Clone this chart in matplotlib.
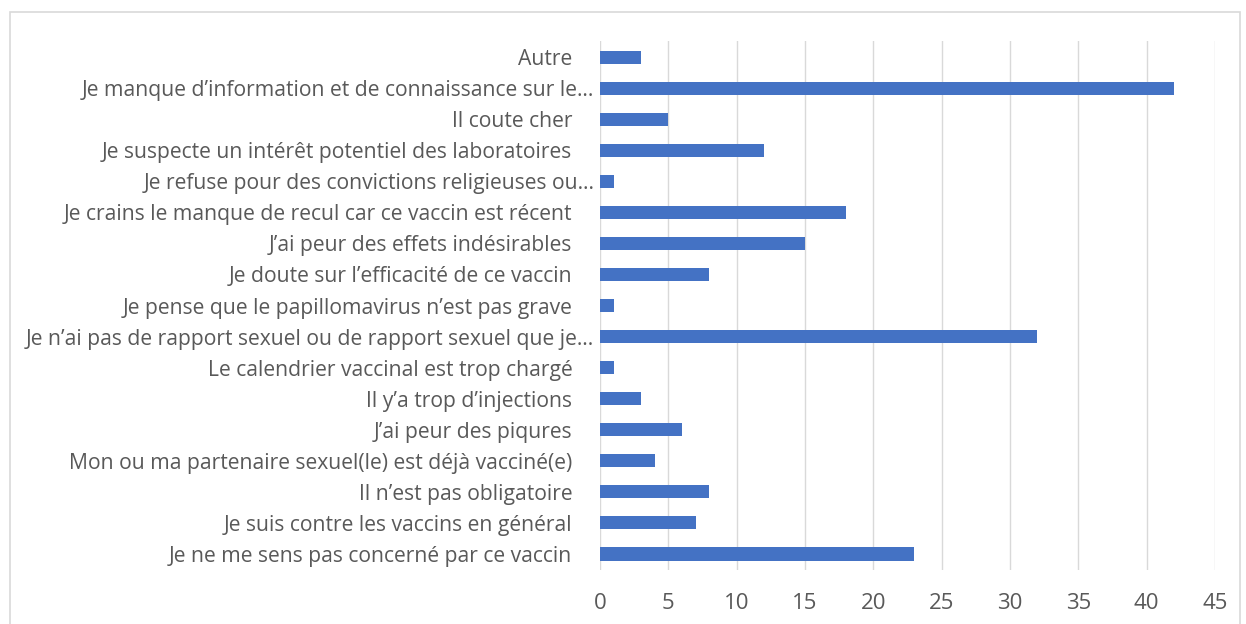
import matplotlib.pyplot as plt
from matplotlib.patches import Rectangle

# Categories listed bottom to top, as drawn
categories = [
    "Je ne me sens pas concerné par ce vaccin",
    "Je suis contre les vaccins en général",
    "Il n’est pas obligatoire",
    "Mon ou ma partenaire sexuel(le) est déjà vacciné(e)",
    "J’ai peur des piqures",
    "Il y’a trop d’injections",
    "Le calendrier vaccinal est trop chargé",
    "Je n’ai pas de rapport sexuel ou de rapport sexuel que je…",
    "Je pense que le papillomavirus n’est pas grave",
    "Je doute sur l’efficacité de ce vaccin",
    "J’ai peur des effets indésirables",
    "Je crains le manque de recul car ce vaccin est récent",
    "Je refuse pour des convictions religieuses ou…",
    "Je suspecte un intérêt potentiel des laboratoires",
    "Il coute cher",
    "Je manque d’information et de connaissance sur le…",
    "Autre",
]
values = [23, 7, 8, 4, 6, 3, 1, 32, 1, 8, 15, 18, 1, 12, 5, 42, 3]
xticks = list(range(0, 50, 5))

plt.rcParams['font.family'] = ['Open Sans', 'DejaVu Sans']

fig = plt.figure(figsize=(12.46, 6.24), dpi=100)
ax = fig.add_axes([0.4815, 0.0873, 0.9751 - 0.4815, 0.9335 - 0.0873])

ypos = range(len(categories))
ax.barh(ypos, values, height=0.42, color="#4472C4", zorder=3)

ax.set_xlim(0, 45)
ax.set_ylim(-0.5, len(categories) - 0.5)
ax.set_xticks(xticks)
ax.set_yticks(list(ypos))
# labels that are not cut get a little trailing gap, like Excel does
labels = [c if c.endswith("…") else c + "    " for c in categories]
ax.set_yticklabels(labels)

ax.grid(axis="x", color="#d9d9d9", linewidth=1, zorder=0)
for s in ax.spines.values():
    s.set_visible(False)
ax.tick_params(axis="both", length=0, colors="#595959")
ax.tick_params(axis="y", labelsize=15.2, pad=4)
ax.tick_params(axis="x", labelsize=16, pad=17)

# light frame around the chart
fig.patches.append(Rectangle((10 / 1246, -0.01), 1230 / 1246, 1 - 12 / 624 + 0.01,
                             transform=fig.transFigure, fill=False,
                             edgecolor="#d9d9d9", linewidth=1.2))

fig.savefig("out.png", dpi=100)
